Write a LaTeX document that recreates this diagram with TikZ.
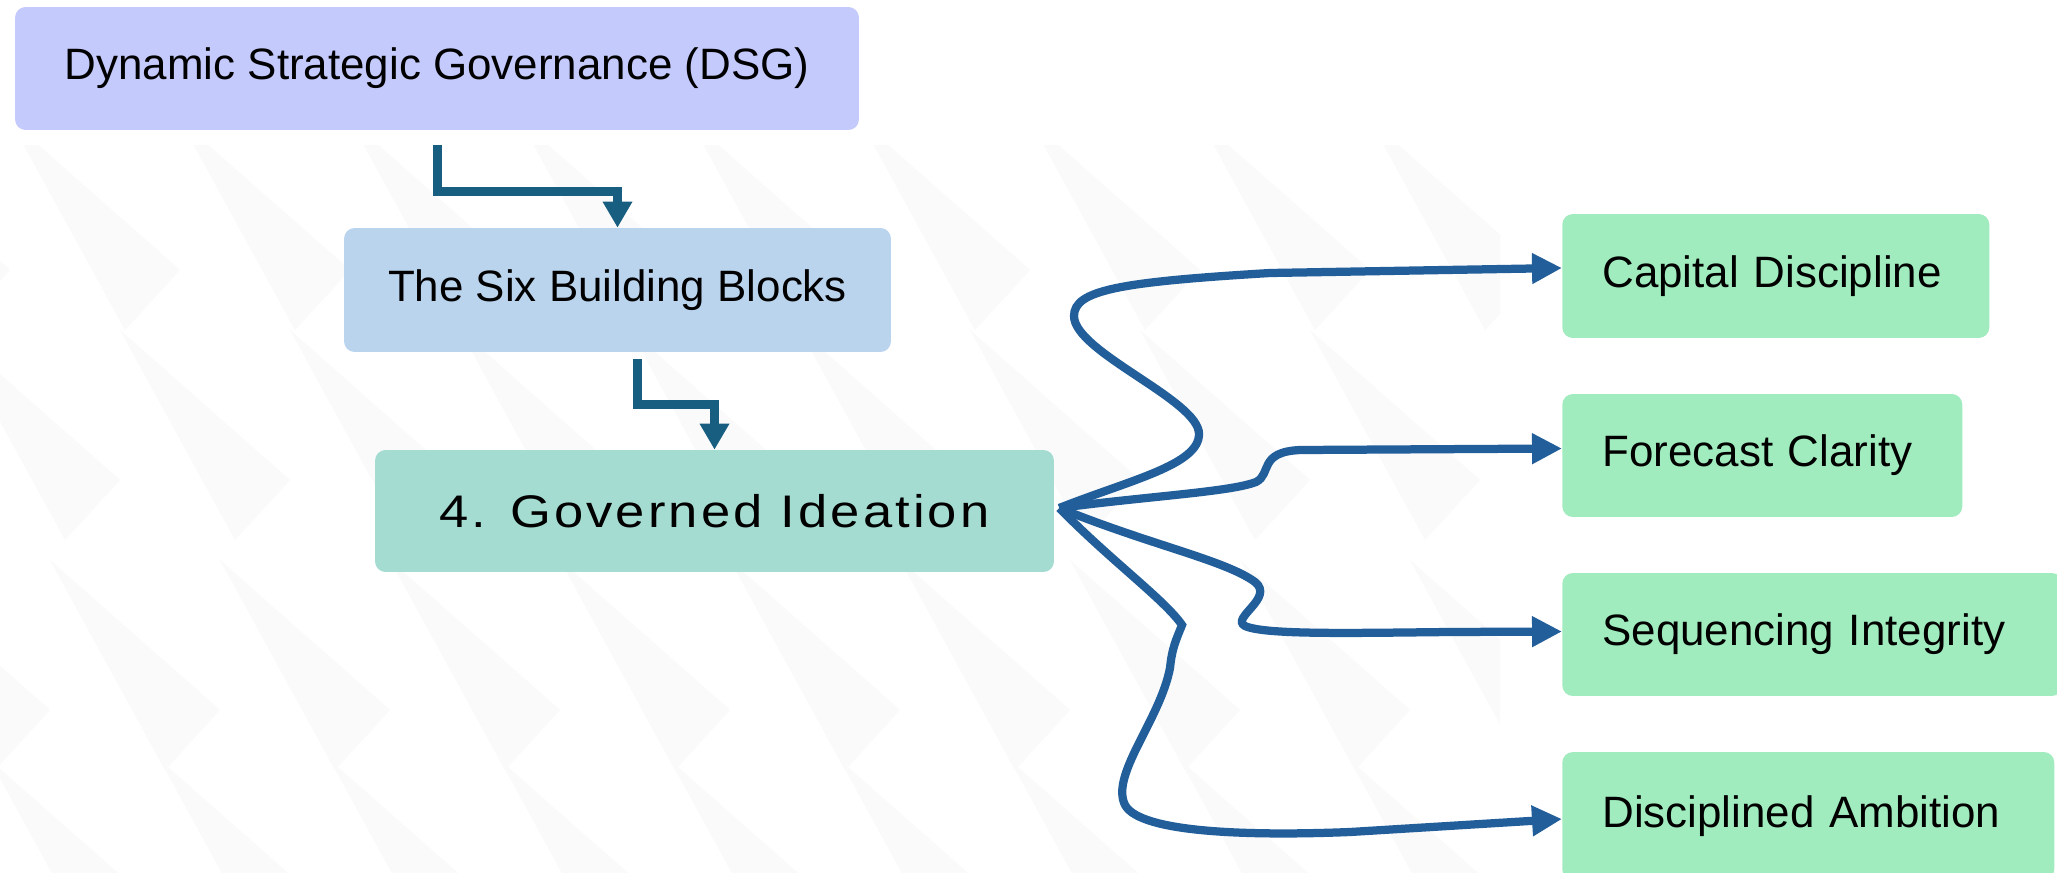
\documentclass[tikz,border=0pt]{standalone}
\usepackage{fontspec}
\setmainfont{Liberation Sans}
\usetikzlibrary{arrows.meta, positioning, calc}
\definecolor{dsgblue}{RGB}{197,202,252}
\definecolor{blockblue}{RGB}{187,212,238}
\definecolor{ideateal}{RGB}{164,220,210}
\definecolor{goalgreen}{RGB}{160,236,190}
\definecolor{elbowblue}{RGB}{24,94,128}
\definecolor{curveblue}{RGB}{34,94,154}
\tikzset{
    %Define style for boxes
    kasse/.style={
           rectangle,
           rounded corners=6pt,
           draw=none,
           inner xsep=0.8cm,
           minimum height=2.46cm,
           font=\fontsize{25}{30}\selectfont},
    % green boxes, text on the left
    maal/.style={
           kasse,
           fill=goalgreen,
           anchor=west,
           align=left},
    % Define arrow styles
    pil/.style={
           -{Triangle[length=0.52cm,width=0.56cm]},
           line width=0.18cm,
           draw=elbowblue},
    buet/.style={
           -{Triangle[length=0.6cm,width=0.58cm]},
           line width=0.165cm,
           draw=curveblue},
    shard/.style={fill=black!2, draw=none}
}
\begin{document}
\begin{tikzpicture}[x=0.02cm, y=-0.02cm]
	%
	% fond
	%
	\fill[white] (0,0) rectangle (2057,872);
	\useasboundingbox (0,0) rectangle (2057,872);
	\begin{scope}
	\clip (0,145) rectangle (1500,872);
	\foreach \y/\o in {120/0, 330/-60, 560/40, 760/-20}
		\foreach \x in {-160,10,...,1400}
			\fill[shard] (\x+\o,\y) -- (\x+\o+115,\y+210) -- (\x+\o+170,\y+150) -- cycle;
	\end{scope}
	\fill[white] (0,0) rectangle (870,145);
	%
	% noeuds
	%
	\node[kasse, fill=dsgblue, minimum width=16.88cm] (dsg) at (437,68.5) {Dynamic Strategic Governance (DSG)};
	\node[kasse, fill=blockblue, minimum width=10.94cm, minimum height=2.48cm] (blocks) at (617.5,290) {The Six Building Blocks};
	\node[kasse, fill=ideateal, minimum width=13.58cm, minimum height=2.44cm, font=\fontsize{26}{31}\selectfont\addfontfeature{LetterSpace=6}] (ideation) at (714.5,511) {\scalebox{1.15}[1]{4. Governed Ideation}};
	\node[maal, text width=6.94cm, minimum height=2.48cm] (capital) at (1562,276) {Capital Discipline};
	\node[maal, text width=6.4cm] (forecast) at (1562,455.5) {Forecast Clarity};
	\node[maal, text width=8.4cm] (sequencing) at (1562,634.5) {Sequencing Integrity};
	\node[maal, text width=8.24cm, minimum height=2.56cm] (ambition) at (1562,816) {Disciplined Ambition};
	\coordinate (hub) at ([xshift=0.1cm,yshift=0.06cm]ideation.east);
	%
	% Liens
	%
	\draw[pil, shorten <=0.3cm] (dsg.south) -- ++(0,61) -| (blocks.north);
	\draw[pil, shorten <=0.14cm] ([xshift=0.4cm]blocks.south) -- ++(0,52) -| (ideation.north);
	\draw[buet] (hub) .. controls (1130,480) and (1199,465) .. (1199,434)
		.. controls (1199,400) and (1074,352) .. (1074,316)
		.. controls (1074,290) and (1120,282) .. (1270,273) -- ([yshift=0.16cm]capital.west);
	\draw[buet] (hub) .. controls (1150,496) and (1230,492) .. (1256,482)
		.. controls (1272,474) and (1258,452) .. (1300,450) -- ([yshift=0.14cm]forecast.west);
	\draw[buet] (hub) .. controls (1150,545) and (1225,560) .. (1255,582)
		.. controls (1275,598) and (1230,618) .. (1245,626)
		.. controls (1265,635) and (1350,633) .. (1450,632) -- ([yshift=0.06cm]sequencing.west);
	\draw[buet] (hub) .. controls (1110,560) and (1165,600) .. (1182,625)
		.. controls (1176,640) and (1172,648) .. (1170,668)
		.. controls (1160,720) and (1110,775) .. (1125,805)
		.. controls (1140,833) and (1250,836) .. (1350,832) -- ([yshift=-0.06cm]ambition.west);
\end{tikzpicture}
\end{document}
